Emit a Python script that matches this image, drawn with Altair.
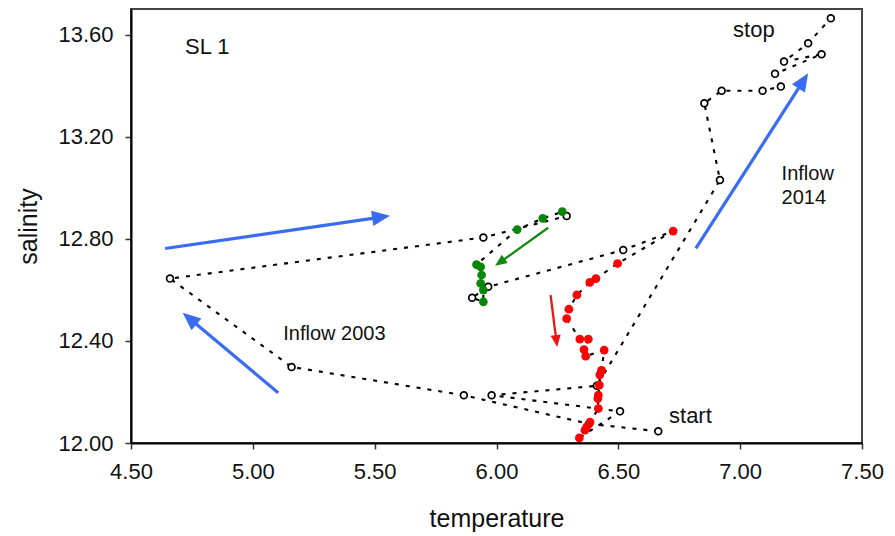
import math

import altair as alt
import pandas as pd

# Station SL 1: temperature / salinity track, in time order from "start" to "stop"
temperature = [
    6.664, 6.380, 5.866, 5.159, 4.660, 5.946, 6.288,
    6.270, 6.190, 6.085, 5.918, 5.935, 5.939, 5.935, 5.946, 5.946,
    5.900, 5.966, 6.520,
    6.725, 6.497, 6.408, 6.383, 6.330, 6.297, 6.288, 6.342, 6.377, 6.359,
    6.366, 6.442, 6.431, 6.424, 6.422, 6.418, 6.416, 6.418, 6.384, 6.370,
    6.363, 6.340,
    6.507, 5.980, 6.412, 6.917, 6.853, 6.924, 7.092, 7.167, 7.143, 7.334,
    7.180, 7.279, 7.372,
]
salinity = [
    12.046, 12.075, 12.187, 12.298, 12.644, 12.805, 12.889,
    12.906, 12.880, 12.836, 12.699, 12.690, 12.658, 12.625, 12.599, 12.553,
    12.569, 12.612, 12.756,
    12.830, 12.703, 12.644, 12.629, 12.580, 12.524, 12.487, 12.407, 12.407, 12.366,
    12.340, 12.364, 12.285, 12.267, 12.227, 12.188, 12.174, 12.135, 12.082, 12.063,
    12.050, 12.020,
    12.124, 12.187, 12.224, 13.030, 13.331, 13.380, 13.380, 13.396, 13.446, 13.523,
    13.494, 13.566, 13.664,
]
series = (
    ["open"] * 7
    + ["green"] * 9
    + ["open"] * 3
    + ["red"] * 22
    + ["open"] * 13
)

# Arrow annotations (tail -> tip, in data units)
arrow_t0 = [5.104, 4.640, 6.818, 6.212, 6.222]
arrow_s0 = [12.197, 12.762, 12.762, 12.843, 12.579]
arrow_t1 = [4.712, 5.563, 7.279, 5.994, 6.249]
arrow_s1 = [12.510, 12.890, 13.448, 12.694, 12.376]
arrow_kind = ["blue", "blue", "blue", "green", "red"]

# Text annotations
note_text = ["SL 1", "stop", "start", "Inflow 2003", "Inflow", "2014"]
note_t = [4.722, 6.971, 6.708, 5.125, 7.170, 7.170]
note_s = [13.524, 13.590, 12.078, 12.403, 13.030, 12.936]
note_size = [22, 22, 22, 20, 20, 20]

FONT = "Liberation Sans"
W, H = 731, 434
T_DOM = [4.5, 7.5]
S_DOM = [12.0, 13.7]
KX = W / (T_DOM[1] - T_DOM[0])
KY = H / (S_DOM[1] - S_DOM[0])

arrow_style = {
    "blue": {"color": "#3a6cf2", "width": 3.2, "head": 18},
    "green": {"color": "#118a11", "width": 2.3, "head": 12},
    "red": {"color": "#ee1414", "width": 2.3, "head": 12},
}

track = pd.DataFrame(
    {
        "step": list(range(len(temperature))),
        "temperature": temperature,
        "salinity": salinity,
        "series": series,
    }
)

rows = []
for t0, s0, t1, s1, kind in zip(arrow_t0, arrow_s0, arrow_t1, arrow_s1, arrow_kind):
    st = arrow_style[kind]
    dx = (t1 - t0) * KX
    dy = (s1 - s0) * KY
    length = math.hypot(dx, dy)
    ux, uy = dx / length, dy / length
    half = st["head"] / 2
    ct = t1 - half * ux / KX
    cs = s1 - half * uy / KY
    rows.append(
        {
            "t0": t0,
            "s0": s0,
            "tc": ct,
            "sc": cs,
            "angle": math.degrees(math.atan2(ux, uy)) % 360,
            "color": st["color"],
            "width": st["width"],
            "hsize": st["head"] ** 2,
        }
    )
arrows = pd.DataFrame(rows)

notes = pd.DataFrame(
    {"label": note_text, "t": note_t, "s": note_s, "size": note_size}
)

x_scale = alt.Scale(domain=T_DOM, nice=False, zero=False)
y_scale = alt.Scale(domain=S_DOM, nice=False, zero=False)

x_enc = alt.X(
    "temperature:Q",
    scale=x_scale,
    axis=alt.Axis(
        title="temperature",
        values=[4.5, 5.0, 5.5, 6.0, 6.5, 7.0, 7.5],
        format=".2f",
        labelFlush=False,
    ),
)
y_enc = alt.Y(
    "salinity:Q",
    scale=y_scale,
    axis=alt.Axis(
        title="salinity",
        values=[12.0, 12.4, 12.8, 13.2, 13.6],
        format=".2f",
    ),
)

line = (
    alt.Chart(track)
    .mark_line(color="black", strokeWidth=2.1, strokeDash=[4, 7])
    .encode(x=x_enc, y=y_enc, order="step:Q")
)

open_pts = (
    alt.Chart(track)
    .transform_filter(alt.datum.series == "open")
    .mark_point(
        shape="circle", size=46, fill="white", stroke="black",
        strokeWidth=1.7, opacity=1,
    )
    .encode(x=x_enc, y=y_enc)
)

filled_pts = (
    alt.Chart(track)
    .transform_filter(alt.datum.series != "open")
    .mark_circle(size=76, opacity=1)
    .encode(
        x=x_enc,
        y=y_enc,
        color=alt.Color(
            "series:N",
            scale=alt.Scale(domain=["red", "green"], range=["#ff0000", "#0a870a"]),
            legend=None,
        ),
    )
)

shafts = (
    alt.Chart(arrows)
    .mark_rule(strokeCap="butt")
    .encode(
        x=alt.X("t0:Q", scale=x_scale),
        y=alt.Y("s0:Q", scale=y_scale),
        x2="tc:Q",
        y2="sc:Q",
        color=alt.Color("color:N", scale=None),
        strokeWidth=alt.StrokeWidth("width:Q", scale=None),
    )
)

heads = (
    alt.Chart(arrows)
    .mark_point(shape="M0,-1L0.85,1L-0.85,1Z", filled=True, opacity=1, strokeWidth=0)
    .encode(
        x=alt.X("tc:Q", scale=x_scale),
        y=alt.Y("sc:Q", scale=y_scale),
        color=alt.Color("color:N", scale=None),
        angle=alt.Angle("angle:Q", scale=None),
        size=alt.Size("hsize:Q", scale=None),
    )
)

labels = (
    alt.Chart(notes)
    .mark_text(align="left", baseline="alphabetic", font=FONT, color="#111111")
    .encode(
        x=alt.X("t:Q", scale=x_scale),
        y=alt.Y("s:Q", scale=y_scale),
        text="label:N",
        size=alt.Size("size:Q", scale=None),
    )
)

chart = (
    alt.layer(line, open_pts, filled_pts, shafts, heads, labels)
    .properties(
        width=W,
        height=H,
        autosize=alt.AutoSizeParams(type="none"),
        padding={"left": 131, "top": 9, "right": 33, "bottom": 93},
        background="white",
    )
    .configure_view(stroke="#444444", strokeWidth=2)
    .configure_axis(
        grid=False,
        domainColor="black",
        domainWidth=2,
        tickColor="#333333",
        tickWidth=1.5,
        tickSize=6,
        labelFont=FONT,
        labelFontSize=22,
        labelColor="#111111",
        titleFont=FONT,
        titleFontSize=25,
        titleFontWeight="normal",
        titleColor="#111111",
    )
    .configure_axisX(labelPadding=12, titlePadding=24)
    .configure_axisY(labelPadding=12, titlePadding=16)
)

chart.save("out.html", embed_options={"renderer": "svg", "actions": False})
